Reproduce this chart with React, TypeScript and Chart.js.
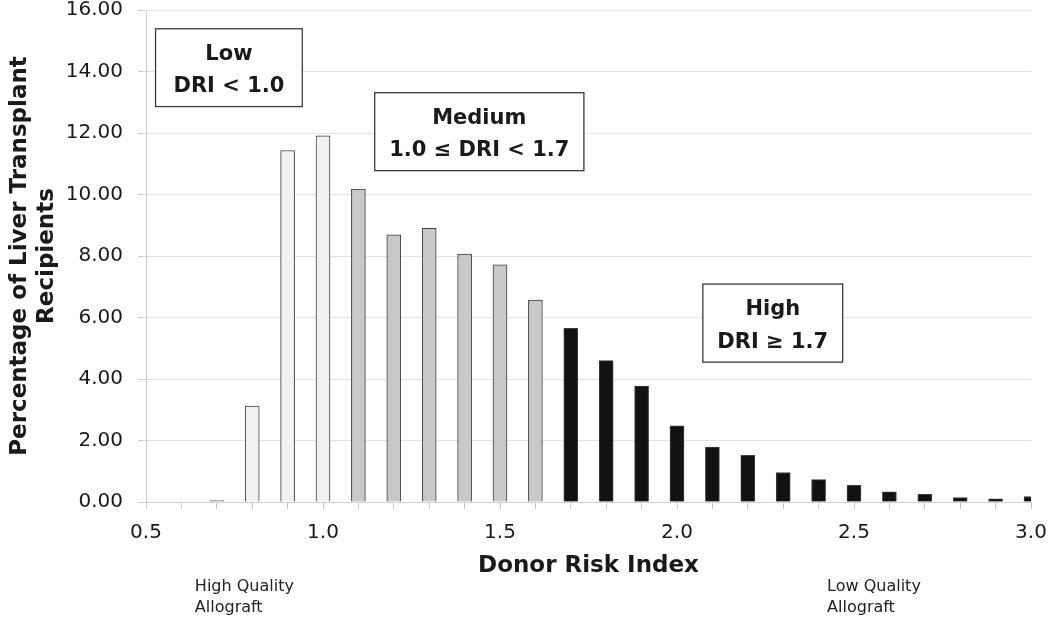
import React, { useEffect, useRef } from 'react';
import { Chart, registerables } from 'chart.js';

Chart.register(...registerables);

// ---- data ----
const dri = [0.7, 0.8, 0.9, 1.0, 1.1, 1.2, 1.3, 1.4, 1.5, 1.6, 1.7, 1.8, 1.9, 2.0, 2.1, 2.2, 2.3, 2.4, 2.5, 2.6, 2.7, 2.8, 2.9, 3.0];
const pct = [0.05, 3.12, 11.43, 11.91, 10.18, 8.69, 8.9, 8.06, 7.71, 6.57, 5.65, 4.6, 3.77, 2.48, 1.79, 1.52, 0.96, 0.73, 0.54, 0.33, 0.25, 0.14, 0.1, 0.18];
const lowUpper = 1.0;
const mediumUpper = 1.6;

const xMin = 0.5;
const xMax = 3.0;
const yMin = 0;
const yMax = 16;

const xTitle = 'Donor Risk Index';
const yTitle = ['Percentage of Liver Transplant', 'Recipients'];

const boxTitles = ['Low', 'Medium', 'High'];
const boxRanges = ['DRI < 1.0', '1.0 ≤ DRI < 1.7', 'DRI ≥ 1.7'];
const boxX0 = [0.527, 1.146, 2.073];
const boxX1 = [0.9415, 1.737, 2.468];
const boxYTop = [15.39, 13.31, 7.087];
const boxYBottom = [12.86, 10.775, 4.547];

const noteLines = [['High Quality', 'Allograft'], ['Low Quality', 'Allograft']];
const noteX = [0.638, 2.424];

const FONT = '"DejaVu Sans", "Liberation Sans", Arial, sans-serif';

const colorFor = (v: number) => (v <= lowUpper ? '#f0f0f0' : v <= mediumUpper ? '#c8c8c8' : '#121212');

const annotationPlugin = {
  id: 'driAnnotations',
  afterDatasetsDraw(chart: any) {
    const { ctx, scales } = chart;
    const x = scales.x;
    const y = scales.y;
    ctx.save();
    for (let i = 0; i < boxTitles.length; i++) {
      const l = x.getPixelForValue(boxX0[i]);
      const r = x.getPixelForValue(boxX1[i]);
      const t = y.getPixelForValue(boxYTop[i]);
      const b = y.getPixelForValue(boxYBottom[i]);
      ctx.fillStyle = '#ffffff';
      ctx.fillRect(l, t, r - l, b - t);
      ctx.strokeStyle = '#3a3a3a';
      ctx.lineWidth = 1.3;
      ctx.strokeRect(l, t, r - l, b - t);
      ctx.fillStyle = '#1a1a1a';
      ctx.font = 'bold 21px ' + FONT;
      ctx.textAlign = 'center';
      ctx.textBaseline = 'alphabetic';
      const cx = (l + r) / 2;
      ctx.fillText(boxTitles[i], cx, t + 31);
      ctx.fillText(boxRanges[i], cx, t + 63.5);
    }
    ctx.font = '16px ' + FONT;
    ctx.textAlign = 'left';
    ctx.fillStyle = '#222222';
    const base = chart.chartArea.bottom + 89;
    for (let i = 0; i < noteLines.length; i++) {
      const px = x.getPixelForValue(noteX[i]);
      noteLines[i].forEach((s, j) => ctx.fillText(s, px, base + j * 21));
    }
    ctx.restore();
  },
};

export default function App() {
  const ref = useRef<HTMLCanvasElement | null>(null);

  useEffect(() => {
    if (!ref.current) return;
    Chart.defaults.font.family = FONT;
    const chart = new Chart(ref.current, {
      type: 'bar',
      data: {
        datasets: [
          {
            data: dri.map((v, i) => ({ x: v, y: pct[i] })),
            backgroundColor: dri.map(colorFor),
            borderColor: '#3f3f3f',
            borderWidth: 1,
            barThickness: 14,
          } as any,
        ],
      },
      options: {
        animation: false,
        responsive: true,
        maintainAspectRatio: false,
        layout: { padding: { left: 0, right: 19, top: 10, bottom: 0 } },
        plugins: { legend: { display: false }, tooltip: { enabled: false } },
        scales: {
          x: {
            type: 'linear',
            min: xMin,
            max: xMax,
            offset: false,
            grid: { display: true, offset: false, drawOnChartArea: false, drawTicks: true, tickLength: 7, tickColor: '#c8c8c8' },
            border: { display: true, color: '#cfcfcf' },
            ticks: {
              stepSize: 0.1,
              autoSkip: false,
              maxRotation: 0,
              padding: 12,
              color: '#1a1a1a',
              font: { size: 20 },
              callback: (v: any) => {
                const n = Number(v);
                return Math.abs(n * 2 - Math.round(n * 2)) < 1e-6 ? n.toFixed(1) : '';
              },
            },
            title: {
              display: true,
              text: xTitle,
              color: '#1a1a1a',
              font: { size: 23, weight: 'bold' },
              padding: { top: 0, bottom: 42 },
            },
            afterFit: (s: any) => {
              s.height = 120;
              s.paddingLeft = 0;
              s.paddingRight = 0;
            },
          },
          y: {
            min: yMin,
            max: yMax,
            grid: { color: '#e3e3e3', tickLength: 8, tickColor: '#d0d0d0' },
            border: { display: true, color: '#d0d0d0' },
            ticks: {
              stepSize: 2,
              padding: 15,
              color: '#1a1a1a',
              font: { size: 20 },
              callback: (v: any) => Number(v).toFixed(2),
            },
            title: {
              display: true,
              text: yTitle,
              color: '#1a1a1a',
              font: { size: 23, weight: 'bold' },
              padding: { top: 6, bottom: 0 },
            },
            afterFit: (s: any) => {
              s.width = 146;
              s.paddingTop = 0;
              s.paddingBottom = 0;
            },
          },
        },
      } as any,
      plugins: [annotationPlugin],
    });
    return () => chart.destroy();
  }, []);

  return (
    <div style={{ position: 'fixed', left: 0, top: 0, width: 1050, height: 622, background: '#fff' }}>
      <canvas ref={ref} />
    </div>
  );
}
